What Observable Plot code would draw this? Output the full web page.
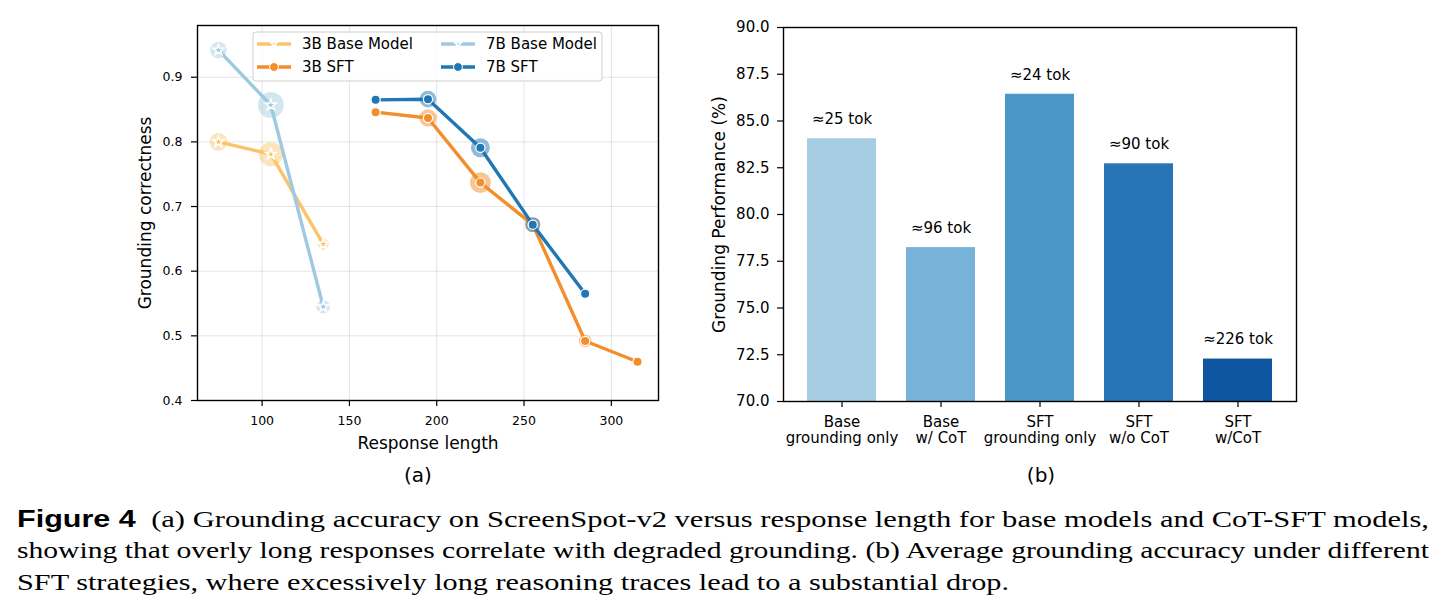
<!DOCTYPE html>
<html><head><meta charset="utf-8">
<script src="https://cdn.jsdelivr.net/npm/d3@7"></script>
<script src="https://cdn.jsdelivr.net/npm/@observablehq/plot@0.6"></script>
<style>
html,body{margin:0;padding:0;background:#fff;}
body{width:1446px;height:616px;position:relative;overflow:hidden;font-family:"DejaVu Sans",sans-serif;color:#000;}
.abs{position:absolute;}
.sub{font-size:20px;transform:translate(-50%,-50%);white-space:nowrap;}
#caption{position:absolute;left:17px;top:503.5px;font-family:"Liberation Serif",serif;font-size:23px;line-height:31.5px;}
#caption .ln{display:block;height:31.5px;white-space:nowrap;}
#caption .in{display:inline-block;transform-origin:0 0;white-space:pre;}
#caption b{font-family:"Liberation Sans",sans-serif;font-weight:bold;}
</style></head><body>
<div id="left" class="abs" style="left:100px;top:0px"></div>
<div id="right" class="abs" style="left:700px;top:0px"></div>
<div id="legend" class="abs" style="left:250px;top:28px"></div>
<div class="abs sub" style="left:418px;top:475px">(a)</div>
<div class="abs sub" style="left:1041px;top:475px">(b)</div>
<div id="caption">
<div class="ln"><span class="in" data-w="1412"><b>Figure 4</b>  (a) Grounding accuracy on ScreenSpot-v2 versus response length for base models and CoT-SFT models,</span></div>
<div class="ln"><span class="in" data-w="1412">showing that overly long responses correlate with degraded grounding. (b) Average grounding accuracy under different</span></div>
<div class="ln"><span class="in" data-w="992">SFT strategies, where excessively long reasoning traces lead to a substantial drop.</span></div>
</div>
<script>
// ---------- Data: panel (a) ----------
const seriesNames = ["3B Base Model", "7B Base Model", "3B SFT", "7B SFT"];
const len3BBase = [75, 105, 135];
const acc3BBase = [0.800, 0.781, 0.642];
const weight3BBase = [80, 145, 32];
const len7BBase = [75, 105, 135];
const acc7BBase = [0.942, 0.857, 0.545];
const weight7BBase = [70, 170, 45];
const len3BSFT = [165, 195, 225, 255, 285, 315];
const acc3BSFT = [0.846, 0.837, 0.737, 0.672, 0.492, 0.460];
const weight3BSFT = [20, 76, 110, 56, 40, 20];
const len7BSFT = [165, 195, 225, 255, 285];
const acc7BSFT = [0.865, 0.866, 0.791, 0.672, 0.565];
const weight7BSFT = [20, 70, 90, 56, 25];
const xTicksA = [100, 150, 200, 250, 300];
const yTicksA = [0.4, 0.5, 0.6, 0.7, 0.8, 0.9];

// ---------- Data: panel (b) ----------
const strategies = ["Base\ngrounding only", "Base\nw/ CoT", "SFT\ngrounding only", "SFT\nw/o CoT", "SFT\nw/CoT"];
const performance = [84.05, 78.23, 86.43, 82.71, 72.27];
const tokenLabels = ["≈25 tok", "≈96 tok", "≈24 tok", "≈90 tok", "≈226 tok"];
const yTicksB = [70, 72.5, 75, 77.5, 80, 82.5, 85, 87.5, 90];

// ---------- Styles ----------
const seriesColor = {"3B Base Model": "#fbc46b", "7B Base Model": "#9ecae1", "3B SFT": "#f28e2b", "7B SFT": "#1f77b4"};
const seriesKind = {"3B Base Model": "base", "7B Base Model": "base", "3B SFT": "sft", "7B SFT": "sft"};
const barPalette = ["#a6cde3", "#77b2d8", "#4a97c9", "#2775b6", "#0e57a0"];
const xDomainA = [63, 327];
const yDomainA = [0.4, 0.98];
const yDomainB = [70, 90];

const seriesData = {
  "3B Base Model": d3.zip(len3BBase, acc3BBase, weight3BBase),
  "7B Base Model": d3.zip(len7BBase, acc7BBase, weight7BBase),
  "3B SFT": d3.zip(len3BSFT, acc3BSFT, weight3BSFT),
  "7B SFT": d3.zip(len7BSFT, acc7BSFT, weight7BSFT)
};

const seriesMarks = seriesNames.flatMap(name => {
  const rows = seriesData[name].map(([x, y, w]) => ({x, y, w}));
  const c = seriesColor[name];
  const base = seriesKind[name] === "base";
  return [
    Plot.line(rows, {x: "x", y: "y", stroke: c, strokeWidth: 3.4}),
    Plot.dot(rows, {x: "x", y: "y", r: "w", fill: c, fillOpacity: base ? 0.45 : 0.5, stroke: "none"}),
    Plot.dot(rows, {x: "x", y: "y", r: base ? 3.4 : 4.6, symbol: base ? "star" : "circle", fill: c, stroke: "white", strokeWidth: base ? 1.5 : 1.2})
  ];
});

const chartA = Plot.plot({
  width: 580, height: 460,
  marginLeft: 97, marginRight: 22, marginTop: 25, marginBottom: 60,
  style: {fontFamily: "DejaVu Sans", fontSize: "12.5px", color: "#000", background: "transparent", overflow: "visible"},
  x: {domain: xDomainA, label: null},
  y: {domain: yDomainA, label: null},
  r: {type: "sqrt", domain: [0, 170], range: [0, 13]},
  marks: [
    Plot.gridX(xTicksA, {stroke: "#000", strokeOpacity: 0.1, strokeWidth: 1}),
    Plot.gridY(yTicksA, {stroke: "#000", strokeOpacity: 0.1, strokeWidth: 1}),
    ...seriesMarks,
    Plot.frame({stroke: "#000", strokeWidth: 1.4}),
    Plot.axisX(xTicksA, {tickSize: 6, tickPadding: 10, strokeWidth: 1.2, label: null}),
    Plot.axisY(yTicksA, {tickSize: 6, tickPadding: 9, strokeWidth: 1.2, tickFormat: d3.format(".1f"), label: null}),
    Plot.text(["Response length"], {text: d => d, frameAnchor: "bottom", textAnchor: "middle", dy: 48, fontSize: 17}),
    Plot.text(["Grounding correctness"], {text: d => d, frameAnchor: "left", textAnchor: "middle", rotate: -90, dx: -52, fontSize: 17})
  ]
});
document.getElementById("left").append(chartA);

// ---------- Panel (b) ----------
const barRows = strategies.map((s, i) => ({s, v: performance[i], t: tokenLabels[i]}));
const chartB = Plot.plot({
  width: 620, height: 460,
  marginLeft: 83, marginRight: 24, marginTop: 27, marginBottom: 59,
  style: {fontFamily: "DejaVu Sans", fontSize: "15px", color: "#000", background: "transparent", overflow: "visible"},
  x: {domain: strategies, paddingInner: 0.3, paddingOuter: 0.235, label: null},
  y: {domain: yDomainB, label: null},
  color: {domain: strategies, range: barPalette},
  marks: [
    Plot.barY(barRows, {x: "s", y1: yDomainB[0], y2: "v", fill: "s"}),
    Plot.text(barRows, {x: "s", y: "v", text: "t", dy: -19.5, fontSize: 15}),
    Plot.frame({stroke: "#000", strokeWidth: 1.4}),
    Plot.axisX({tickSize: 6, tickPadding: 8, strokeWidth: 1.2, lineHeight: 1.07, label: null}),
    Plot.axisY(yTicksB, {tickSize: 6, tickPadding: 8, strokeWidth: 1.2, tickFormat: d3.format(".1f"), label: null}),
    Plot.text(["Grounding Performance (%)"], {text: d => d, frameAnchor: "left", textAnchor: "middle", rotate: -90, dx: -64, fontSize: 17})
  ]
});
document.getElementById("right").append(chartB);

// ---------- Legend for panel (a) ----------
(function () {
  const svg = d3.create("svg").attr("width", 360).attr("height", 60)
    .style("font-family", "DejaVu Sans").style("font-size", "15px").style("overflow", "visible");
  svg.append("rect").attr("x", 3).attr("y", 4).attr("width", 349).attr("height", 49).attr("rx", 3)
    .attr("fill", "white").attr("fill-opacity", 0.8).attr("stroke", "#cfcfcf").attr("stroke-width", 1);
  const order = [["3B Base Model", 0, 0], ["3B SFT", 0, 1], ["7B Base Model", 1, 0], ["7B SFT", 1, 1]];
  order.forEach(([name, col, row]) => {
    const x0 = col ? 191 : 7, y = row ? 39 : 16, c = seriesColor[name];
    const g = svg.append("g");
    g.append("line").attr("x1", x0).attr("x2", x0 + 34).attr("y1", y).attr("y2", y)
      .attr("stroke", c).attr("stroke-width", 3.4);
    if (seriesKind[name] === "base") {
      g.append("path").attr("d", d3.symbol(d3.symbolStar, 14)()).attr("transform", `translate(${x0 + 17},${y})`)
        .attr("fill", c).attr("stroke", "white").attr("stroke-width", 1.2);
    } else {
      g.append("circle").attr("cx", x0 + 17).attr("cy", y).attr("r", 4.4)
        .attr("fill", c).attr("stroke", "white").attr("stroke-width", 1);
    }
    g.append("text").attr("x", x0 + 45).attr("y", y).attr("dy", "0.36em").attr("fill", "#000").text(name);
  });
  document.getElementById("legend").append(svg.node());
})();

// ---------- Fit caption lines ----------
function fitCaption() {
  document.querySelectorAll("#caption .in").forEach(el => {
    el.style.transform = "none";
    const w = el.getBoundingClientRect().width;
    const target = +el.dataset.w;
    el.style.transform = `scaleX(${target / w})`;
  });
}
fitCaption();
if (document.fonts && document.fonts.ready) document.fonts.ready.then(fitCaption);
</script>
</body></html>
